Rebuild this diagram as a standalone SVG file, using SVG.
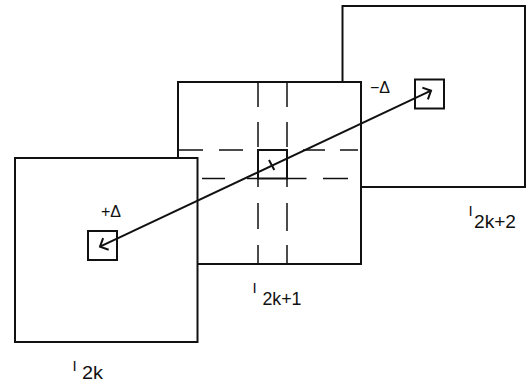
<svg xmlns="http://www.w3.org/2000/svg" width="527" height="385" viewBox="0 0 527 385">
<style>
.frame{fill:#fff;stroke:#111;stroke-width:2}
.win{fill:none;stroke:#111;stroke-width:2}
.dash{stroke:#111;stroke-width:1.5;fill:none}
.conn{stroke:#111;stroke-width:2;fill:none}
.lbl{font-family:"Liberation Sans",Arial,sans-serif;fill:#111}
.sub{font-size:18px}
.cap{font-size:15px}
.sym{font-size:16px}
</style>
<defs>
<marker id="vhead" markerUnits="userSpaceOnUse" markerWidth="20" markerHeight="20" refX="10" refY="10" viewBox="0 0 20 20" orient="auto-start-reverse" overflow="visible">
<path d="M3.5,3.5 L10,10 L3.5,16.5" fill="none" stroke="#111" stroke-width="2"/>
</marker>
</defs>
<g id="frame-2k2">
<rect class="frame" x="342.5" y="6" width="182.5" height="181"/>
<rect class="win" x="415" y="79.5" width="29" height="29"/>
<text class="lbl sym" x="370" y="93">−Δ</text>
<text class="lbl cap" x="468.5" y="216">I</text>
<text class="lbl sub" x="474" y="227.5" textLength="42" lengthAdjust="spacingAndGlyphs">2k+2</text>
</g>
<g id="frame-2k1">
<rect class="frame" x="178" y="82" width="183" height="182"/>
<path class="dash" d="M258,82V107 M258,122V147 M258,178.5V187 M258,203V229 M258,245V264 M287,82V107 M287,122V147 M287,178.5V187 M287,203V231 M287,245V264 M178,150H203 M219,150H243 M303,150H325 M340,150H358 M202,178.5H225 M247,178.5H258 M287,178.5H306.5 M323,178.5H348"/>
<rect class="win" x="258" y="150" width="29" height="28.5"/>
<text class="lbl cap" x="252.5" y="293">I</text>
<text class="lbl sub" x="262.5" y="304.5" textLength="39" lengthAdjust="spacingAndGlyphs">2k+1</text>
</g>
<g id="frame-2k">
<rect class="frame" x="15" y="158" width="182.5" height="184"/>
<rect class="win" x="88" y="231" width="29" height="29"/>
<text class="lbl sym" x="101" y="217">+Δ</text>
<text class="lbl cap" x="72.5" y="371">I</text>
<text class="lbl sub" x="82" y="379" textLength="21" lengthAdjust="spacingAndGlyphs">2k</text>
</g>
<g id="connectors">
<line class="conn" x1="100" y1="246.7" x2="431" y2="90.7" marker-start="url(#vhead)" marker-end="url(#vhead)"/>
<line class="conn" x1="269" y1="160" x2="274.3" y2="170"/>
</g>
</svg>
